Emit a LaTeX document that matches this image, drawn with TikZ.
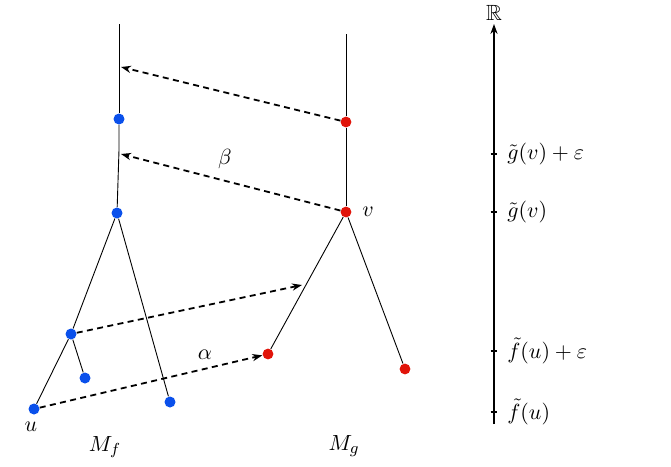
\documentclass[tikz,border=0pt]{standalone}
\usepackage{amsmath,amssymb}
\usetikzlibrary{arrows.meta}
\definecolor{dotblue}{RGB}{10,80,235}
\definecolor{dotred}{RGB}{225,20,10}
\begin{document}
\begin{tikzpicture}[x=0.5pt,y=-0.5pt,
  every node/.style={font=\fontsize{11}{13}\selectfont},
  bdot/.style={circle,fill=dotblue,inner sep=0pt,minimum size=5.5pt},
  rdot/.style={circle,fill=dotred,inner sep=0pt,minimum size=5.4pt},
  edge/.style={line width=0.45pt},
  map/.style={dash pattern=on 3pt off 2.2pt, line width=0.9pt, -{Stealth[length=5pt,width=3.6pt]}},
  axis/.style={line width=0.55pt},
  ticklabel/.style={anchor=west,inner sep=0pt}]
\useasboundingbox (0,0) rectangle (671,467);
% M_f tree
\coordinate (ftop) at (119,24);
\coordinate (fbend) at (119,150);
\node[bdot] (f1) at (119,119) {};
\node[bdot] (f2) at (117,213) {};
\node[bdot] (f3) at (71,334) {};
\node[bdot] (f4) at (85,378) {};
\node[bdot] (u) at (34,409) {};
\node[bdot] (f6) at (170,402) {};
\draw[edge] (ftop) -- (f1);
\draw[edge] (f1) -- (fbend) -- (f2);
\draw[edge] (f2) -- (f3);
\draw[edge] (f3) -- (u);
\draw[edge] (f3) -- (f4);
\draw[edge] (f2) -- (f6);
% M_g tree
\coordinate (gtop) at (346,34);
\node[rdot] (g1) at (346,122) {};
\node[rdot] (v) at (346,212) {};
\node[rdot] (g3) at (268,354) {};
\node[rdot] (g4) at (405,369) {};
\draw[edge] (gtop) -- (g1);
\draw[edge] (g1) -- (v);
\draw[edge] (v) -- (g3);
\draw[edge] (v) -- (g4);
% maps
\coordinate (m1) at (121,67);
\coordinate (m2) at (121,154);
\coordinate (m3) at (302,285);
\draw[map] (g1) -- (m1);
\draw[map] (v) -- (m2);
\draw[map] (f3) -- (m3);
\draw[map] (u) -- (g3);
\node (beta) at (225,159) {$\beta$};
\node (alpha) at (205,355) {$\alpha$};
% labels
\node (vlab) at (368,212) {$v$};
\node (ulab) at (31,427) {$u$};
\node (Mf) at (105,447) {$M_f$};
\node (Mg) at (344,446) {$M_g$};
% axis
\coordinate (abot) at (494,424);
\coordinate (atop) at (494,24);
\draw[axis,-{Stealth[length=5pt,width=3.6pt]}] (abot) -- (atop);
\node (R) at (494,13) {$\mathbb{R}$};
\foreach \y/\n/\t in {154/t1/{\tilde g(v)+\varepsilon}, 212/t2/{\tilde g(v)}, 351/t3/{\tilde f(u)+\varepsilon}, 412/t4/{\tilde f(u)}}{
  \coordinate (\n) at (494,\y);
  \draw[axis] ([xshift=-1.7pt]\n) -- ([xshift=1.7pt]\n);
  \node[ticklabel] at (507,\y) {$\t$};
}
\end{tikzpicture}
\end{document}
